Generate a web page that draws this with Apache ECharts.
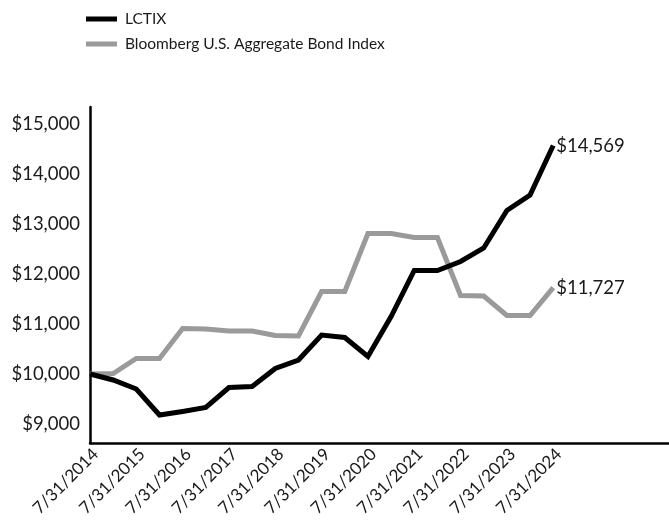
<!DOCTYPE html>
<html>
<head>
<meta charset="utf-8">
<script src="https://cdn.jsdelivr.net/npm/echarts@6/dist/echarts.min.js"></script>
<style>html,body{margin:0;padding:0;background:#fff;}#chart{width:669px;height:529px;}</style>
</head>
<body>
<div id="chart"></div>
<script>
const dates = ['7/31/2014','1/31/2015','7/31/2015','1/31/2016','7/31/2016','1/31/2017','7/31/2017','1/31/2018','7/31/2018','1/31/2019','7/31/2019','1/31/2020','7/31/2020','1/31/2021','7/31/2021','1/31/2022','7/31/2022','1/31/2023','7/31/2023','1/31/2024','7/31/2024'];
const padCategories = ['', '', '', '', ''];
const lctix = [10000, 9880, 9700, 9180, 9250, 9330, 9730, 9750, 10110, 10280, 10780, 10730, 10350, 11150, 12070, 12070, 12250, 12520, 13270, 13580, 14569];
const bloomberg = [10000, 10010, 10310, 10310, 10910, 10900, 10860, 10860, 10770, 10760, 11650, 11650, 12810, 12810, 12730, 12730, 11570, 11560, 11170, 11170, 11727];
const yTicks = [9000, 10000, 11000, 12000, 13000, 14000, 15000];
const seriesNames = ['LCTIX', 'Bloomberg U.S. Aggregate Bond Index'];

const font = 'Lato';
const chart = echarts.init(document.getElementById('chart'), null, {renderer: 'canvas'});
const money = v => '$' + v.toLocaleString('en-US');
chart.setOption({
  animation: false,
  backgroundColor: '#fff',
  legend: {
    orient: 'vertical',
    left: 86,
    top: 11,
    padding: 0,
    itemWidth: 31,
    itemHeight: 5,
    itemGap: 9,
    icon: 'rect',
    textStyle: {fontFamily: font, fontSize: 15.5, color: '#1a1a1a', padding: [0, 0, 0, 3]},
    data: seriesNames
  },
  grid: {left: 90, top: 107, bottom: 86, right: -5.5, containLabel: false},
  xAxis: {
    type: 'category',
    boundaryGap: false,
    data: dates.concat(padCategories),
    axisLine: {lineStyle: {color: '#000', width: 2.5}},
    axisTick: {show: false},
    splitLine: {show: false},
    axisLabel: {interval: 1, rotate: 45, fontFamily: font, fontSize: 17, color: '#1a1a1a', margin: 14, padding: [0, -8, 0, 0]}
  },
  yAxis: {
    type: 'value',
    min: 8620,
    max: 15340,
    axisLine: {show: true, lineStyle: {color: '#000', width: 2.5}},
    axisTick: {show: false},
    splitLine: {show: false},
    axisLabel: {customValues: yTicks, formatter: money, fontFamily: font, fontSize: 18.5, color: '#1a1a1a', margin: 10}
  },
  series: [
    {
      name: seriesNames[0], type: 'line', data: lctix, symbol: 'none',
      itemStyle: {color: '#000'},
      lineStyle: {color: '#000', width: 5, join: 'miter'},
      z: 3,
      endLabel: {show: true, formatter: p => money(p.value), fontFamily: font, fontSize: 18.5, color: '#1a1a1a', distance: 3}
    },
    {
      name: seriesNames[1], type: 'line', data: bloomberg, symbol: 'none',
      itemStyle: {color: '#9a9a9a'},
      lineStyle: {color: '#9a9a9a', width: 5, join: 'miter'},
      z: 2,
      endLabel: {show: true, formatter: p => money(p.value), fontFamily: font, fontSize: 18.5, color: '#1a1a1a', distance: 3}
    }
  ]
});
</script>
</body>
</html>
